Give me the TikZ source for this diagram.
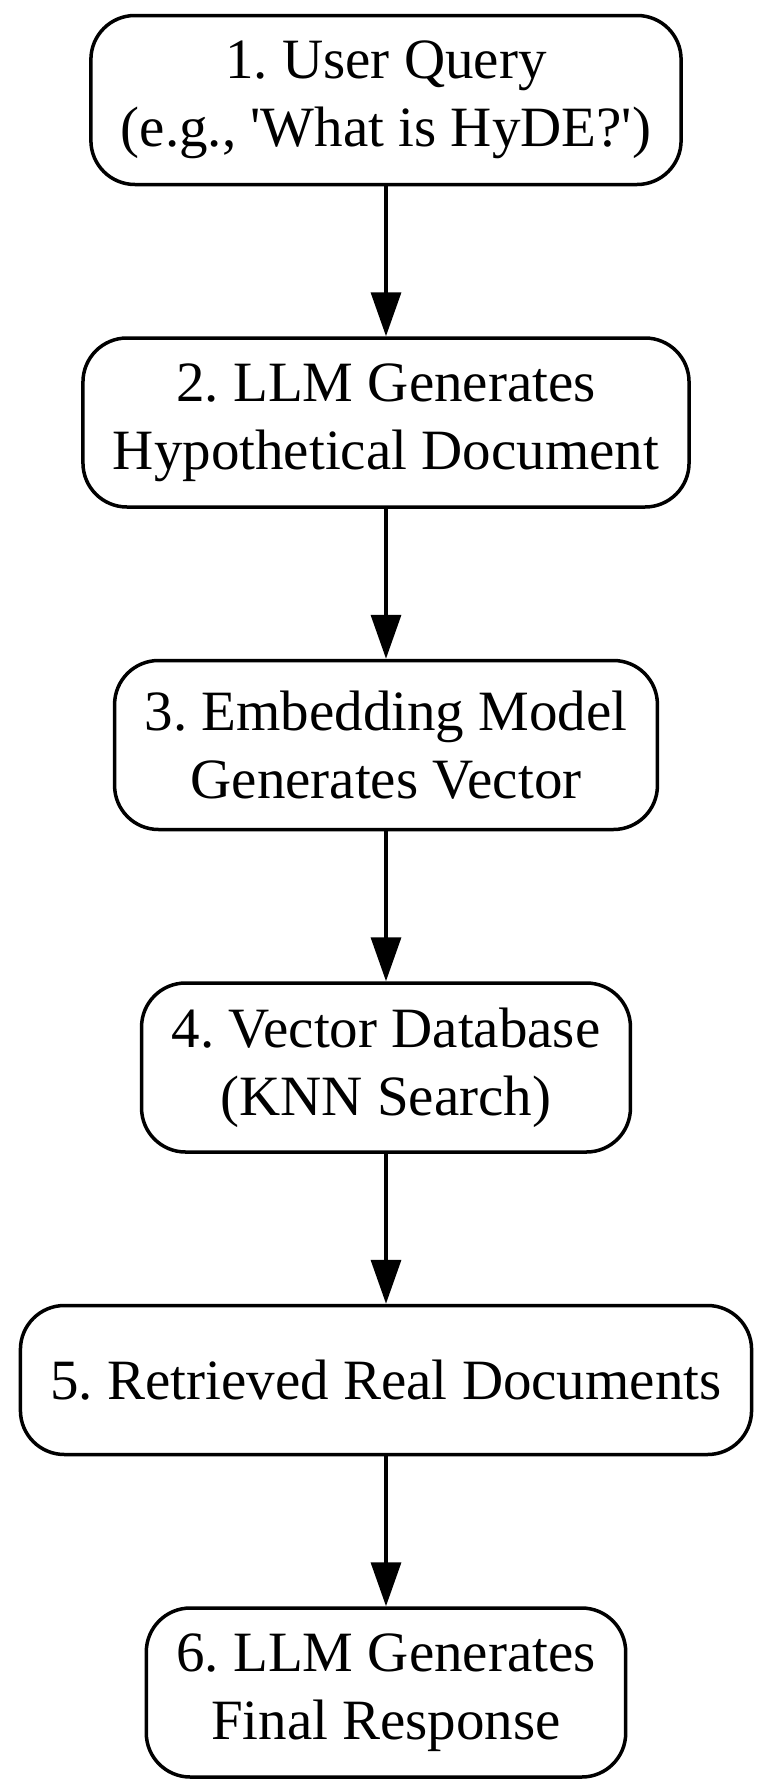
\documentclass[tikz,border=0pt]{standalone}
\usepackage{fontspec}
\setmainfont{Liberation Serif}
\usetikzlibrary{positioning,arrows.meta}

\begin{document}
\frenchspacing
\begin{tikzpicture}[x=1pt,y=-1pt,
  stage/.style={draw, line width=3.5pt, rounded corners=44pt, align=center,
    inner xsep=30pt, minimum height=169pt, font=\fontsize{57}{68}\selectfont},
  flow/.style={line width=3.5pt, -{Triangle[length=44pt,width=30pt]}},
  node distance=150pt]
\useasboundingbox (0,0) rectangle (772,1788);
\node [stage] (q) at (386,100) {1. User Query\\(e.g., \textquotesingle What is HyDE?\textquotesingle)};
\node [stage, below=of q] (h) {2. LLM Generates\\Hypothetical Document};
\node [stage, below=of h] (e) {3. Embedding Model\\Generates Vector};
\node [stage, below=of e] (v) {4. Vector Database\\(KNN Search)};
\node [stage, below=of v, minimum height=149pt] (r) {5. Retrieved Real Documents};
\node [stage, below=of r] (f) {6. LLM Generates\\Final Response};
\draw [flow] (q) -- (h);
\draw [flow] (h) -- (e);
\draw [flow] (e) -- (v);
\draw [flow] (v) -- (r);
\draw [flow] (r) -- (f);
\end{tikzpicture}
\end{document}
